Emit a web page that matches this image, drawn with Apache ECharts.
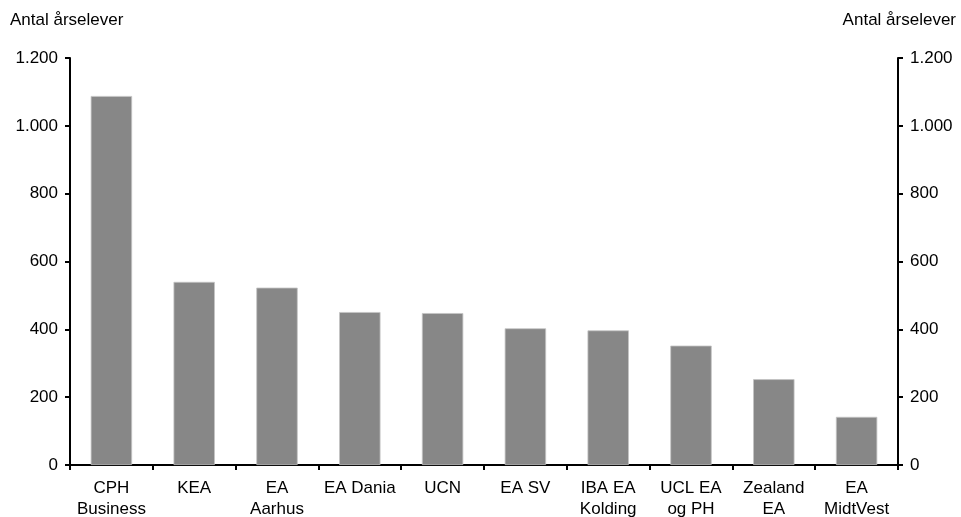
<!DOCTYPE html>
<html>
<head>
<meta charset="utf-8">
<script src="https://cdn.jsdelivr.net/npm/echarts@6/dist/echarts.min.js"></script>
<style>html,body{margin:0;padding:0;background:#fff}#c{width:961px;height:517px}</style>
</head>
<body>
<div id="c"></div>
<script>
var categories = ["CPH\nBusiness", "KEA", "EA\nAarhus", "EA Dania", "UCN", "EA SV", "IBA EA\nKolding", "UCL EA\nog PH", "Zealand\nEA", "EA\nMidtVest"];
var values = [1088, 540, 523, 451, 448, 403, 397, 352, 253, 142];
var axisTitle = "Antal årselever";
var yMin = 0, yMax = 1200, yStep = 200;

function fmt(v) { return String(v).replace(/\B(?=(\d{3})+(?!\d))/g, "."); }
var font = "'Liberation Sans', Arial, sans-serif";
var chart = echarts.init(document.getElementById('c'), null, {renderer: 'canvas'});
var axisLine = {show: true, lineStyle: {color: '#000', width: 2}};
var axisTick = {show: true, length: 5, lineStyle: {color: '#000', width: 2}};
chart.setOption({
  animation: false,
  backgroundColor: '#fff',
  title: [
    {text: axisTitle, left: 10, top: 12, padding: 0, textStyle: {fontFamily: font, fontSize: 17, fontWeight: 'normal', color: '#000'}},
    {text: axisTitle, right: 5, top: 12, padding: 0, textStyle: {fontFamily: font, fontSize: 17, fontWeight: 'normal', color: '#000'}}
  ],
  grid: {left: 70, right: 63, top: 58, bottom: 52, containLabel: false, outerBoundsMode: 'none'},
  xAxis: {
    type: 'category', data: categories,
    axisLine: axisLine, axisTick: Object.assign({alignWithLabel: false}, axisTick),
    axisLabel: {fontFamily: font, fontSize: 17, color: '#000', margin: 13, lineHeight: 21, interval: 0}
  },
  yAxis: [
    {type: 'value', min: yMin, max: yMax, interval: yStep, position: 'left',
     axisLine: axisLine, axisTick: axisTick, splitLine: {show: false},
     axisLabel: {fontFamily: font, fontSize: 17, color: '#000', margin: 12, formatter: fmt}},
    {type: 'value', min: yMin, max: yMax, interval: yStep, position: 'right',
     axisLine: axisLine, axisTick: axisTick, splitLine: {show: false},
     axisLabel: {fontFamily: font, fontSize: 17, color: '#000', margin: 12, formatter: fmt}}
  ],
  series: [{
    type: 'bar', data: values, yAxisIndex: 0, barWidth: '50%',
    itemStyle: {color: '#878787', borderColor: '#c4c4c4', borderWidth: 0.8}
  }]
});
</script>
</body>
</html>
